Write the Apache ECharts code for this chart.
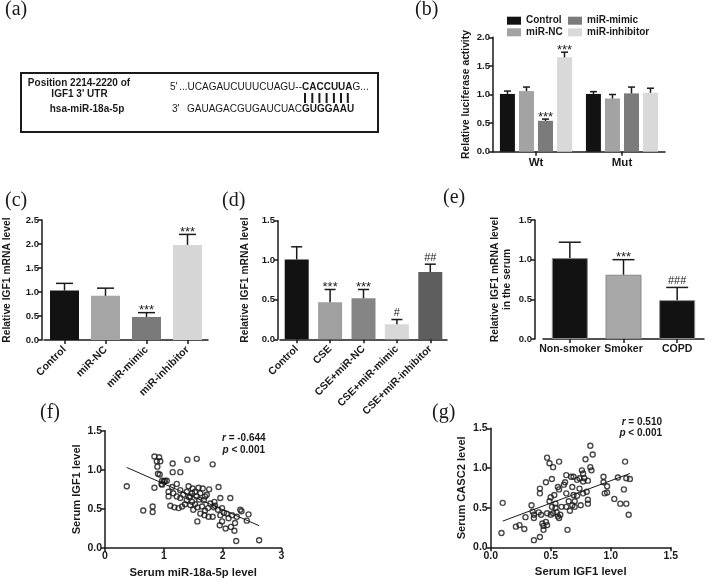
<!DOCTYPE html>
<html><head><meta charset="utf-8">
<script src="https://cdn.jsdelivr.net/npm/echarts@6/dist/echarts.min.js"></script>
<style>html,body{margin:0;padding:0;background:#fff}#c{width:716px;height:582px}</style>
</head><body><div id="c"></div>
<script>
// ---------- DATA ----------
// (b) luciferase
const bCategories = ['Wt', 'Mut'];
const bNames = ['Control', 'miR-NC', 'miR-mimic', 'miR-inhibitor'];
const bControl = [1.01, 1.01];
const bControlErr = [0.05, 0.04];
const bNC = [1.06, 0.93];
const bNCErr = [0.07, 0.07];
const bMimic = [0.54, 1.02];
const bMimicErr = [0.03, 0.11];
const bInhib = [1.65, 1.03];
const bInhibErr = [0.09, 0.08];
const bMimicMarks = ['***', ''];
const bInhibMarks = ['***', ''];
const bTicks = [0, 2.0, 0.5];

// (c)
const cCategories = ['Control', 'miR-NC', 'miR-mimic', 'miR-inhibitor'];
const cValues = [1.03, 0.92, 0.48, 1.98];
const cErr = [0.15, 0.16, 0.09, 0.22];
const cMarks = ['', '', '***', '***'];
const cTicks = [0, 2.5, 0.5];

// (d)
const dCategories = ['Control', 'CSE', 'CSE+miR-NC', 'CSE+miR-mimic', 'CSE+miR-inhibitor'];
const dValues = [1.01, 0.47, 0.52, 0.19, 0.85];
const dErr = [0.16, 0.16, 0.11, 0.06, 0.10];
const dMarks = ['', '***', '***', '#', '##'];
const dTicks = [0, 1.5, 0.5];

// (e)
const eCategories = ['Non-smoker', 'Smoker', 'COPD'];
const eValues = [1.02, 0.81, 0.49];
const eErr = [0.20, 0.19, 0.16];
const eMarks = ['', '***', '###'];
const eTicks = [0, 1.5, 0.5];

// (f) scatter: serum miR-18a-5p vs serum IGF1
const fPoints = [[0.37,0.79],[0.65,0.48],[0.81,0.53],[0.81,0.46],[0.84,1.17],[0.92,1.16],[0.88,1.11],[0.94,1.11],[0.89,1.04],[0.90,0.95],[0.93,0.94],[0.84,0.77],[0.97,0.81],[0.97,0.86],[1.02,0.86],[1.05,0.86],[1.15,1.08],[1.15,0.97],[1.28,0.97],[1.40,1.13],[1.56,1.14],[1.83,1.07],[1.08,0.72],[1.14,0.78],[1.22,0.82],[1.08,0.66],[1.16,0.70],[1.28,0.74],[1.22,0.66],[1.33,0.68],[1.11,0.54],[1.18,0.52],[1.25,0.51],[1.31,0.53],[1.39,0.61],[1.45,0.66],[1.42,0.79],[1.49,0.76],[1.53,0.72],[1.59,0.77],[1.62,0.70],[1.56,0.66],[1.48,0.59],[1.53,0.56],[1.45,0.55],[1.57,0.52],[1.66,0.76],[1.77,0.75],[1.73,0.68],[1.68,0.61],[1.65,0.53],[1.70,0.48],[1.69,0.42],[1.75,0.51],[1.79,0.57],[1.86,0.59],[1.93,0.78],[1.96,0.64],[1.87,0.54],[1.92,0.49],[1.99,0.51],[1.96,0.42],[2.02,0.45],[2.07,0.44],[2.13,0.64],[2.16,0.42],[1.95,0.29],[1.99,0.34],[2.05,0.25],[2.14,0.27],[2.21,0.32],[2.24,0.40],[2.30,0.49],[2.32,0.47],[2.41,0.35],[2.44,0.43],[1.57,0.34],[2.23,0.09],[2.62,0.10],[2.20,0.22],[1.36,0.56],[1.76,0.40],[1.83,0.40],[1.50,0.49],[1.62,0.44],[1.48,0.70],[1.39,0.72],[1.28,0.64],[0.96,0.82],[1.00,0.85],[1.60,0.62],[1.70,0.66],[1.85,0.52],[1.43,0.65],[2.10,0.38]];
const fLine = [[0.37, 1.03], [2.62, 0.285]];
const fStats = ['-0.644', '0.001'];

// (g) scatter: serum IGF1 vs serum CASC2
const gPoints = [[0.10,0.56],[0.09,0.18],[0.21,0.26],[0.24,0.28],[0.28,0.23],[0.29,0.38],[0.34,0.53],[0.35,0.45],[0.36,0.41],[0.36,0.37],[0.36,0.09],[0.41,0.13],[0.41,0.74],[0.41,0.68],[0.40,0.44],[0.42,0.41],[0.43,0.30],[0.44,0.22],[0.44,0.27],[0.47,0.28],[0.46,0.32],[0.47,0.43],[0.46,0.82],[0.47,1.13],[0.49,1.06],[0.50,0.63],[0.49,0.58],[0.51,0.51],[0.52,0.43],[0.50,0.41],[0.51,0.86],[0.52,1.01],[0.53,0.66],[0.54,0.55],[0.54,0.50],[0.55,0.44],[0.56,0.39],[0.57,0.37],[0.58,0.41],[0.57,1.08],[0.57,0.73],[0.56,0.76],[0.59,0.51],[0.61,0.79],[0.62,0.82],[0.63,0.91],[0.63,0.51],[0.63,0.68],[0.64,0.22],[0.65,0.58],[0.66,0.46],[0.67,0.89],[0.68,0.53],[0.68,0.76],[0.69,0.66],[0.70,0.58],[0.70,0.51],[0.69,0.89],[0.72,0.65],[0.72,0.85],[0.74,0.87],[0.74,0.74],[0.75,0.53],[0.76,0.97],[0.77,0.68],[0.77,0.93],[0.77,0.83],[0.78,0.87],[0.80,0.70],[0.81,0.60],[0.81,0.55],[0.79,1.11],[0.81,0.84],[0.83,1.01],[0.83,1.28],[0.84,0.97],[0.85,1.17],[0.94,0.89],[0.94,0.82],[0.95,0.68],[0.97,0.77],[0.97,0.69],[1.03,0.61],[1.06,0.88],[1.08,0.55],[1.11,0.73],[1.12,1.08],[1.13,0.87],[1.13,0.55],[1.16,0.86],[1.15,0.41]];
const gLine = [[0.10, 0.33], [1.16, 0.93]];
const gStats = ['0.510', '0.001'];

// ---------- STYLE ----------
const FONT = 'Liberation Sans';
const SERIF = 'Liberation Serif';
const INK = '#1a1a1a';

function valAxis(grid, ticks, dec, fs, name, nameGap, nfs, extra) {
  return Object.assign({
    type: 'value', gridIndex: grid, min: ticks[0], max: ticks[1], interval: ticks[2],
    axisLine: { show: true, lineStyle: { color: INK, width: 1.5 } },
    axisTick: { show: true, length: 4, lineStyle: { color: INK, width: 1.5 } },
    splitLine: { show: false },
    axisLabel: { fontFamily: FONT, fontWeight: 'bold', fontSize: fs, color: INK, margin: 3,
      formatter: v => v.toFixed(dec) },
    name: name, nameLocation: 'middle', nameGap: nameGap,
    nameTextStyle: { fontFamily: FONT, fontWeight: 'bold', fontSize: nfs, color: INK, lineHeight: 12 }
  }, extra || {});
}
function catAxis(grid, cats, fs, rotate, margin) {
  return {
    type: 'category', gridIndex: grid, data: cats,
    axisLine: { show: true, lineStyle: { color: INK, width: 1.5 } },
    axisTick: { show: true, alignWithLabel: true, length: 4, lineStyle: { color: INK, width: 1.5 } },
    axisLabel: { fontFamily: FONT, fontWeight: 'bold', fontSize: fs, color: INK, interval: 0,
      rotate: rotate, margin: margin }
  };
}
function markFont(m) {
  return m.indexOf('#') >= 0 ? 'normal 11px ' + FONT : 'normal 13px ' + FONT;
}
function errSeries(xi, values, errs, marks, offset, capW) {
  return {
    type: 'custom', xAxisIndex: xi, yAxisIndex: xi, z: 5, silent: true,
    data: values.map((v, i) => [i, v, errs[i]]),
    renderItem: function (params, api) {
      const i = api.value(0), v = api.value(1), e = api.value(2);
      const p0 = api.coord([i, v]), p1 = api.coord([i, v + e]);
      const x = p0[0] + offset;
      const ch = [
        { type: 'line', shape: { x1: x, y1: p0[1], x2: x, y2: p1[1] }, style: { stroke: INK, lineWidth: 1.5 } },
        { type: 'line', shape: { x1: x - capW / 2, y1: p1[1], x2: x + capW / 2, y2: p1[1] }, style: { stroke: INK, lineWidth: 1.5 } }
      ];
      const m = marks[params.dataIndex];
      if (m) {
        const hash = m.indexOf('#') >= 0;
        ch.push({ type: 'text', style: { text: m, x: x, y: hash ? p1[1] - 1 : p1[1] - 2,
          align: 'center', verticalAlign: hash ? 'bottom' : 'middle', font: markFont(m), fill: INK } });
      }
      return { type: 'group', children: ch };
    }
  };
}

const bColors = ['#121212', '#a3a3a3', '#7b7b7b', '#d9d9d9'];
const cColors = ['#121212', '#a5a5a5', '#7a7a7a', '#d6d6d6'];
const dColors = ['#121212', '#a0a0a0', '#858585', '#d8d8d8', '#5e5e5e'];
const eColors = ['#121212', '#a8a8a8', '#121212'];

const grids = [
  { left: 493, top: 37.3, width: 172, height: 114.4 },   // b
  { left: 42, top: 220, width: 166, height: 120 },       // c
  { left: 280, top: 220.7, width: 167, height: 118.6 },  // d
  { left: 543, top: 220, width: 161, height: 119 },      // e
  { left: 105, top: 430.7, width: 176.5, height: 117.3 },// f
  { left: 490.7, top: 428.3, width: 180, height: 119 }   // g
];

const xAxes = [
  catAxis(0, bCategories, 11.5, 0, 5),
  catAxis(1, cCategories, 10.5, 45, 8),
  catAxis(2, dCategories, 10.5, 45, 8),
  catAxis(3, eCategories, 10.5, 0, 5),
  valAxis(4, [0, 3, 1], 0, 10.5, 'Serum miR-18a-5p level', 19, 11.3),
  valAxis(5, [0, 1.5, 0.5], 1, 10.5, 'Serum IGF1 level', 19, 11.3)
];
const yAxes = [
  valAxis(0, bTicks, 1, 9.5, 'Relative luciferase activity', 21, 10.3),
  valAxis(1, cTicks, 1, 9.5, 'Relative IGF1 mRNA level', 29, 10.3, { offset: 2 }),
  valAxis(2, dTicks, 1, 9.5, 'Relative IGF1 mRNA level', 27, 10.3, { offset: 2 }),
  valAxis(3, eTicks, 1, 9.5, 'Relative IGF1 mRNA level\nin the serum', 22, 10.3, { offset: 8 }),
  valAxis(4, [0, 1.5, 0.5], 1, 10.5, 'Serum IGF1 level', 22, 11.1),
  valAxis(5, [0, 1.5, 0.5], 1, 10.5, 'Serum CASC2 level', 23, 11.1)
];

const bSeriesVals = [bControl, bNC, bMimic, bInhib];
const bSeriesErr = [bControlErr, bNCErr, bMimicErr, bInhibErr];
const bSeriesMarks = [['', ''], ['', ''], bMimicMarks, bInhibMarks];
const bOffsets = [-28.5, -9.5, 9.5, 28.5];

const series = [];
bNames.forEach((n, k) => {
  series.push({ type: 'bar', name: n, xAxisIndex: 0, yAxisIndex: 0, data: bSeriesVals[k],
    barWidth: 15, barGap: '27%', itemStyle: { color: bColors[k] } });
});
bNames.forEach((n, k) => {
  series.push(errSeries(0, bSeriesVals[k], bSeriesErr[k], bSeriesMarks[k], bOffsets[k], 7));
});
series.push({ type: 'bar', xAxisIndex: 1, yAxisIndex: 1, barWidth: 29,
  data: cValues.map((v, i) => ({ value: v, itemStyle: { color: cColors[i] } })) });
series.push(errSeries(1, cValues, cErr, cMarks, 0, 17));
series.push({ type: 'bar', xAxisIndex: 2, yAxisIndex: 2, barWidth: 24,
  data: dValues.map((v, i) => ({ value: v, itemStyle: { color: dColors[i] } })) });
series.push(errSeries(2, dValues, dErr, dMarks, 0, 11));
series.push({ type: 'bar', xAxisIndex: 3, yAxisIndex: 3, barWidth: 36,
  data: eValues.map((v, i) => ({ value: v, itemStyle: { color: eColors[i], borderColor: '#8a8a8a', borderWidth: 1 } })) });
series.push(errSeries(3, eValues, eErr, eMarks, 0, 22));
series.push({ type: 'scatter', xAxisIndex: 4, yAxisIndex: 4, data: fPoints, symbol: 'circle', symbolSize: 5,
  itemStyle: { color: 'rgba(0,0,0,0)', borderColor: INK, borderWidth: 1.4 } });
series.push({ type: 'line', xAxisIndex: 4, yAxisIndex: 4, data: fLine, symbol: 'none',
  lineStyle: { color: INK, width: 1 } });
series.push({ type: 'scatter', xAxisIndex: 5, yAxisIndex: 5, data: gPoints, symbol: 'circle', symbolSize: 5,
  itemStyle: { color: 'rgba(0,0,0,0)', borderColor: INK, borderWidth: 1.4 } });
series.push({ type: 'line', xAxisIndex: 5, yAxisIndex: 5, data: gLine, symbol: 'none',
  lineStyle: { color: INK, width: 1 } });

function panelLabel(t, x, y) {
  return { type: 'text', left: x, top: y, style: { text: t, font: 'normal 20px ' + SERIF, fill: INK } };
}
function txt(t, x, y, opts) {
  return { type: 'text', x: x, y: y, style: Object.assign({ text: t, font: 'normal 10px ' + FONT, fill: INK,
    align: 'left', verticalAlign: 'middle' }, opts || {}) };
}
const pairX = [305, 312.3, 319.4, 326.6, 333.9, 341, 347.8];
const graphic = [
  panelLabel('(a)', 5, 0), panelLabel('(b)', 415, 0), panelLabel('(c)', 5, 191),
  panelLabel('(d)', 222, 191), panelLabel('(e)', 443, 188), panelLabel('(f)', 40, 403),
  panelLabel('(g)', 432, 403),
  { type: 'rect', shape: { x: 21, y: 73, width: 357, height: 59 }, style: { fill: 'none', stroke: INK, lineWidth: 2 } },
  txt('Position 2214-2220 of', 79, 83.3, { font: 'bold 10px ' + FONT, align: 'center' }),
  txt("IGF1 3' UTR", 79.5, 94.3, { font: 'bold 10px ' + FONT, align: 'center' }),
  txt('hsa-miR-18a-5p', 87, 109, { font: 'bold 10px ' + FONT, align: 'center' }),
  txt("5'", 170, 87.3),
  txt('...UCAGAUCUUUCUAGU--', 302, 87.3, { align: 'right' }),
  txt('{b|CACCUUA}G...', 302, 87.3, { rich: { b: { font: 'bold 10px ' + FONT, fill: INK } } }),
  txt("3'", 172, 109),
  txt('GAUAGACGUGAUCUAC', 302, 109, { align: 'right' }),
  txt('GUGGAAU', 302, 109, { font: 'bold 10px ' + FONT }),
  txt('{i|r} = ' + fStats[0], 222, 438.3, { font: 'bold 10px ' + FONT, rich: { i: { font: 'italic bold 10px ' + FONT, fill: INK } } }),
  txt('{i|p} < ' + fStats[1], 222.5, 450, { font: 'bold 10px ' + FONT, rich: { i: { font: 'italic bold 10px ' + FONT, fill: INK } } }),
  txt('{i|r} = ' + gStats[0], 662, 422.7, { font: 'bold 10px ' + FONT, align: 'right', rich: { i: { font: 'italic bold 10px ' + FONT, fill: INK } } }),
  txt('{i|p} < ' + gStats[1], 662, 433.6, { font: 'bold 10px ' + FONT, align: 'right', rich: { i: { font: 'italic bold 10px ' + FONT, fill: INK } } })
];
pairX.forEach(x => graphic.push({ type: 'line', shape: { x1: x, y1: 93, x2: x, y2: 103 }, style: { stroke: INK, lineWidth: 2 } }));

const legendBase = { orient: 'vertical', itemWidth: 14, itemHeight: 8, itemGap: 1.6, padding: 0, icon: 'rect',
  selectedMode: false, textStyle: { fontFamily: FONT, fontWeight: 'bold', fontSize: 10, color: INK, lineHeight: 10 } };

const option = {
  animation: false,
  backgroundColor: '#fff',
  textStyle: { fontFamily: FONT },
  grid: grids,
  xAxis: xAxes,
  yAxis: yAxes,
  legend: [
    Object.assign({}, legendBase, { left: 507, top: 15.7, data: ['Control', 'miR-NC'] }),
    Object.assign({}, legendBase, { left: 568, top: 15.7, data: ['miR-mimic', 'miR-inhibitor'] })
  ],
  series: series,
  graphic: graphic
};
const chart = echarts.init(document.getElementById('c'));
chart.setOption(option);
</script>
</body></html>
